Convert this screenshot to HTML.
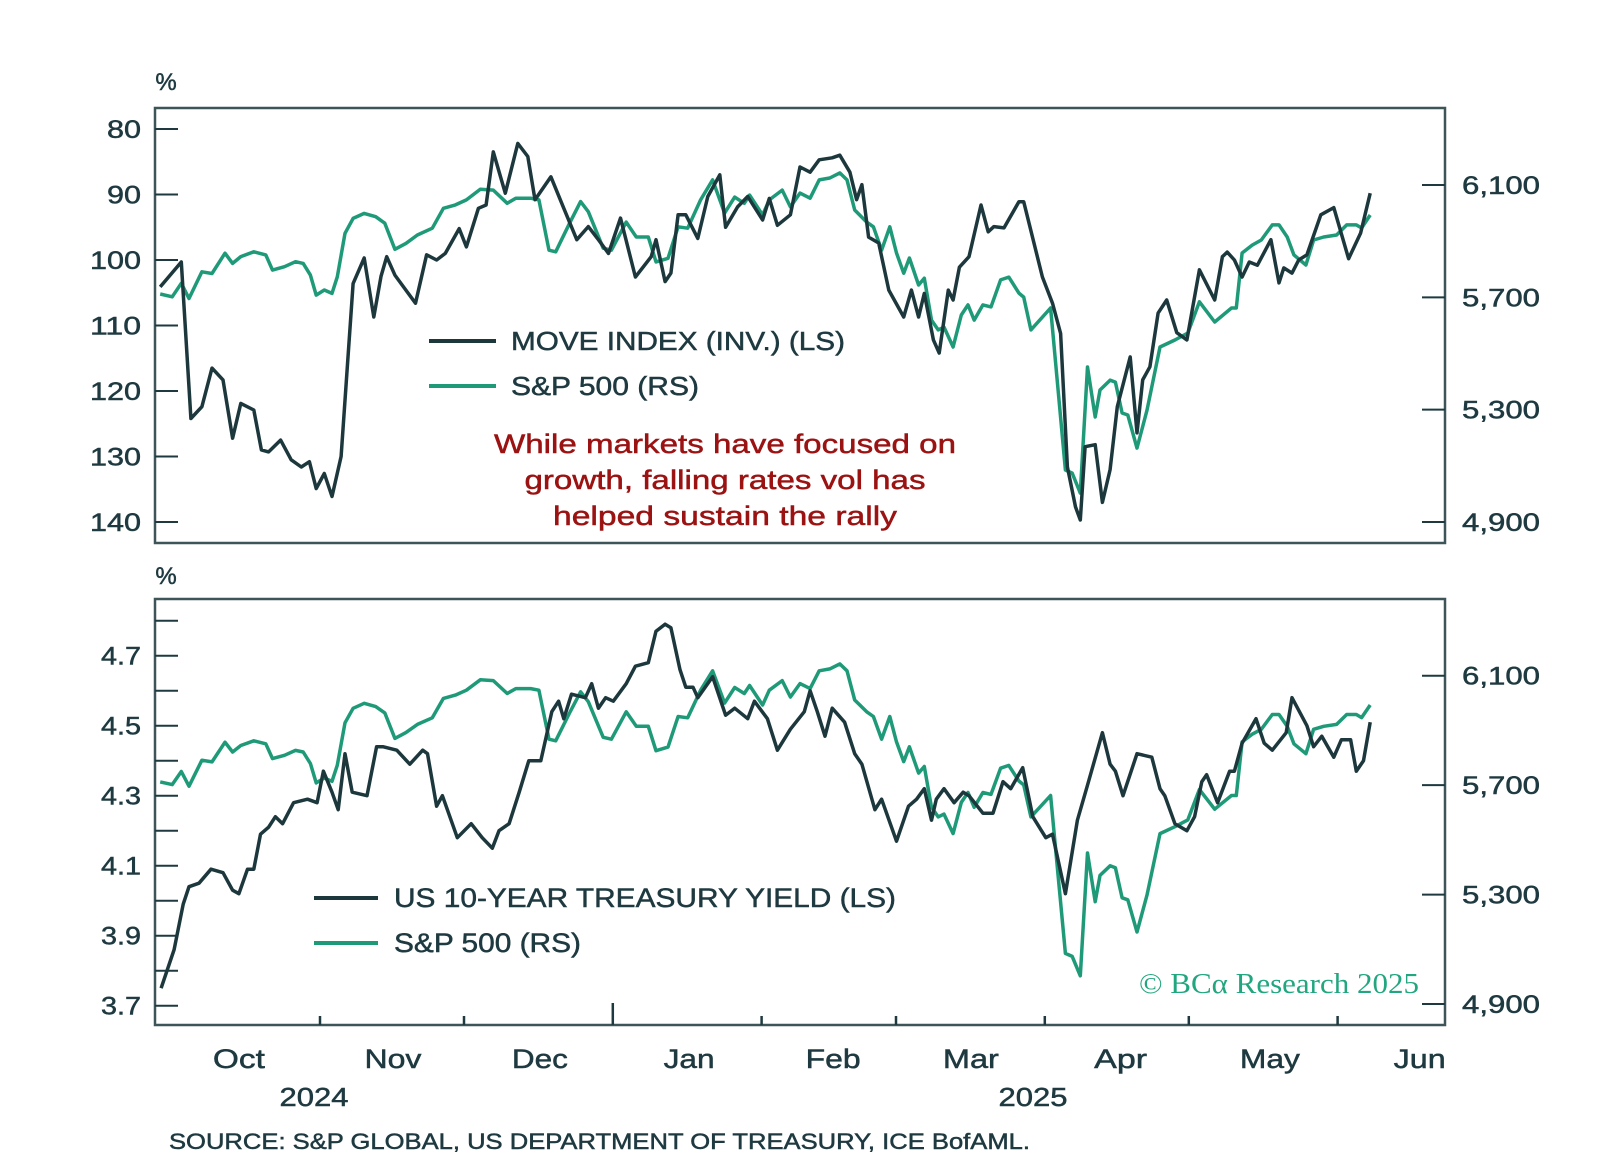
<!DOCTYPE html>
<html><head><meta charset="utf-8">
<style>
html,body{margin:0;padding:0;background:#fff;}
svg{display:block;font-family:"Liberation Sans",sans-serif;}
svg text{stroke:currentColor;stroke-width:0.5px;}
</style></head>
<body>
<svg id="chart" width="1600" height="1169" viewBox="0 0 1600 1169" xmlns="http://www.w3.org/2000/svg">
<rect width="1600" height="1169" fill="#fff"/>
<g id="gtop"></g>
<g id="gbot"></g>
<g id="xaxis"></g>
<text x="166" y="90" font-size="24" fill="#1e3a40" color="#1e3a40" text-anchor="middle">%</text>
<text x="166" y="584" font-size="24" fill="#1e3a40" color="#1e3a40" text-anchor="middle">%</text>
<g>
<line x1="429" y1="341" x2="496" y2="341" stroke="#1d383d" stroke-width="4"/>
<text x="511" y="350" font-size="26" fill="#1e3a40" color="#1e3a40" textLength="334" lengthAdjust="spacingAndGlyphs">MOVE INDEX (INV.) (LS)</text>
<line x1="429" y1="386" x2="496" y2="386" stroke="#1f9a78" stroke-width="4"/>
<text x="511" y="395" font-size="26" fill="#1e3a40" color="#1e3a40" textLength="188" lengthAdjust="spacingAndGlyphs">S&amp;P 500 (RS)</text>
</g>
<g font-size="27" fill="#9b1212" color="#9b1212" text-anchor="middle">
<text x="725" y="453" textLength="462" lengthAdjust="spacingAndGlyphs">While markets have focused on</text>
<text x="725" y="489" textLength="401" lengthAdjust="spacingAndGlyphs">growth, falling rates vol has</text>
<text x="725" y="525" textLength="344" lengthAdjust="spacingAndGlyphs">helped sustain the rally</text>
</g>
<g>
<line x1="314" y1="898" x2="378" y2="898" stroke="#1d383d" stroke-width="4"/>
<text x="394" y="907" font-size="27" fill="#1e3a40" color="#1e3a40" textLength="502" lengthAdjust="spacingAndGlyphs">US 10-YEAR TREASURY YIELD (LS)</text>
<line x1="314" y1="943" x2="378" y2="943" stroke="#1f9a78" stroke-width="4"/>
<text x="394" y="952" font-size="27" fill="#1e3a40" color="#1e3a40" textLength="187" lengthAdjust="spacingAndGlyphs">S&amp;P 500 (RS)</text>
</g>
<text x="1419" y="993" text-anchor="end" font-family="Liberation Serif,serif" font-size="29" fill="#22a67f" style="stroke:none" textLength="280" lengthAdjust="spacingAndGlyphs">© BCα Research 2025</text>
<text x="169" y="1149" font-size="22" fill="#1e3a40" color="#1e3a40" textLength="861" lengthAdjust="spacingAndGlyphs">SOURCE: S&amp;P GLOBAL, US DEPARTMENT OF TREASURY, ICE BofAML.</text>
</svg>
<script>
// days since 2024-10-01
const moveDays=[-2.3,2.1,4.1,6.4,8.5,10.8,12.8,14.5,17.2,18.8,20.3,22.8,25,27.1,28.8,30.2,31.9,33.5,35.4,37.9,40.2,42.2,43.7,44.9,46.6,48.4,50.9,53.2,55.3,57.1,60,61.5,64,65.6,67.1,69.6,72.2,74.3,75.8,79.1,81.8,84.5,86.9,89.0,91.1,93.6,96.7,100,101,102.9,104.1,105.6,107.2,109.7,111.8,114.3,115.5,118,120.1,123.2,124.6,126.3,129,131,133.1,135,137.7,139.3,141.4,142.8,143.9,145.3,147.4,149.5,152.6,154.2,155.7,156.9,158.8,160,161.9,162.9,164.2,166.2,168.7,170.2,171.4,173.5,176.6,177.6,181.5,183.6,185.3,186.7,188.4,189.4,190.4,192.5,194,195.6,197.1,199.8,201.2,202.4,203.9,205.6,207.4,209.5,211.6,214.2,217.4,219,220,221.5,223.1,224.6,226.3,229.1,230.8,231.8,233.5,234.9,236.6,239.5,242.2,245.3,247.8,249.8];
const moveVals=[104.1,100.3,124.2,122.4,116.5,118.3,127.2,121.9,122.9,129,129.3,127.5,130.5,131.6,130.8,134.9,132.6,136.1,130,103.6,99.7,108.7,102.5,99.5,102.3,104.1,106.6,99.2,100,99,95.2,98,92.1,91.6,83.5,89.8,82.2,84.2,90.8,87.3,92.1,96.9,94.9,96.9,99,93.6,102.6,99.5,96.9,103.3,102,93.1,93.1,96.7,90.3,87,95,91.9,90.3,93.9,90.6,94.7,93.1,85.8,86.6,84.7,84.4,84,86.6,90.8,88.5,96.5,97.4,104.6,108.7,104.6,108.7,105.1,112.2,114.2,104.6,106.1,101.1,99.5,91.6,95.7,94.9,95.1,91.1,91.1,102.6,106.6,111.2,131.6,137.7,139.7,128.5,128.2,137,132,122.4,114.8,126.4,118.3,116.3,108.1,106.1,111.1,112.2,101.5,106.1,99.5,98.8,100,102.6,100.3,100.8,96.9,103.5,101.2,102,100,99.2,93.1,92,99.8,95.9,89.8];
const spxDays=[-2.3,0.2,2.1,3.7,6.4,8.5,11.2,12.8,14.5,17.2,19.7,21.1,23.6,25.9,27.5,29,30.2,31.9,33.5,34.6,36.2,37.9,40.2,42.6,44.5,46.6,48.9,51.3,54.4,56.7,59.2,61.5,64.4,67.1,70,71.8,74.9,76.6,78.7,80.1,83,85.3,86.9,90,91.7,94.8,96.9,99.4,101,103.5,105.6,107.6,110.3,112.8,115.3,117.4,119.4,120.5,123.2,124.6,127.3,129,131,133.1,135,137.2,139.3,140.8,142.4,144.9,146.3,148,149.7,151.1,152.6,153.8,155.7,156.9,158.4,159.8,161,162.9,164.6,166,167.3,169.1,170.8,172.8,174.5,176.6,177.6,179.1,183.2,186.3,187.7,189.4,190.9,192.5,193.5,195.6,196.7,198.1,199.3,201.2,203.3,206,209.1,211.8,214.2,217.4,220.9,221.9,223.1,225.2,227.1,229.4,230.8,232.5,233.9,236.4,238,240.1,242.8,244.9,246.9,248,249.8];
const spxVals=[5712,5702,5750,5696,5791,5785,5857,5821,5845,5862,5851,5797,5809,5827,5821,5779,5708,5726,5714,5773,5928,5981,5999,5987,5964,5871,5892,5922,5946,6017,6029,6047,6085,6082,6035,6053,6053,6047,5868,5862,5964,6041,6005,5875,5868,5968,5915,5915,5826,5839,5951,5946,6047,6118,6000,6057,6035,6064,5993,6047,6082,6022,6071,6053,6118,6125,6143,6118,6011,5968,5951,5868,5951,5858,5786,5840,5744,5768,5619,5584,5594,5523,5637,5673,5619,5673,5666,5762,5772,5715,5701,5584,5662,5085,5074,5003,5452,5274,5370,5405,5398,5288,5281,5163,5298,5523,5548,5573,5684,5612,5662,5662,5858,5886,5904,5958,5958,5915,5851,5815,5904,5915,5922,5958,5958,5947,5993];
const yldDays=[-2.1,0.6,2.5,3.7,5.8,8.3,10.8,12.8,14.1,15.9,17.2,18.6,20.3,21.7,23.2,25.5,28.4,30.4,31.7,33.5,34.8,36.2,37.7,40.8,42.8,44.1,47,49.7,52.4,53.4,55.3,56.5,59.6,62.5,64.8,66.9,68.3,70.4,72.5,74.5,77,79.3,80.7,81.8,83.4,86.3,87.6,89,90.5,92.1,94.8,96.7,99.4,101,102.9,104.1,106,107.2,108.7,109.7,112.8,115.5,117.4,120.1,121.5,124.2,126.3,129,131.9,133.1,134.6,136.2,137.7,140.3,142.4,143.9,146.6,148,151.1,153.6,155.3,156.9,158.4,159.4,161,163.1,165,166.2,169.1,171.2,173.3,174.9,177.4,179.5,182.2,183.6,186.3,188.8,190.9,194,195.6,196.7,198.3,201.2,204.3,206,207,209.1,211.6,213.2,214.7,215.7,218,220.5,221.5,223.1,226,227.7,229.4,232.3,233.5,236.6,238,239.7,242.2,243.8,245.7,246.9,248.4,249.8];
const yldVals=[3.75,3.86,3.99,4.04,4.05,4.09,4.08,4.03,4.02,4.09,4.09,4.19,4.21,4.24,4.22,4.28,4.29,4.28,4.37,4.31,4.26,4.42,4.31,4.30,4.44,4.44,4.43,4.39,4.43,4.42,4.27,4.30,4.18,4.22,4.18,4.15,4.20,4.22,4.31,4.40,4.40,4.54,4.57,4.52,4.59,4.58,4.62,4.55,4.58,4.57,4.62,4.67,4.68,4.77,4.79,4.78,4.66,4.61,4.61,4.58,4.64,4.53,4.55,4.52,4.57,4.52,4.43,4.49,4.54,4.60,4.54,4.47,4.55,4.51,4.42,4.39,4.26,4.29,4.17,4.27,4.29,4.32,4.23,4.29,4.32,4.28,4.31,4.30,4.25,4.25,4.34,4.32,4.38,4.24,4.18,4.19,4.02,4.23,4.33,4.48,4.39,4.37,4.30,4.42,4.41,4.32,4.30,4.22,4.20,4.24,4.34,4.36,4.28,4.37,4.37,4.45,4.52,4.45,4.43,4.48,4.58,4.50,4.44,4.47,4.41,4.46,4.46,4.37,4.40,4.51];
const moveTicks=[80,90,100,110,120,130,140];
const spxTicks=[6100,5700,5300,4900];
const spxTickLabels=["6,100","5,700","5,300","4,900"];
const yldMinorTicks=[4.8,4.7,4.6,4.5,4.4,4.3,4.2,4.1,4.0,3.9,3.8,3.7];
const yldLabels=[4.7,4.5,4.3,4.1,3.9,3.7];
const monthStartDays=[31,61,92,123,151,182,212,243];
const monthLabels=["Oct","Nov","Dec","Jan","Feb","Mar","Apr","May","Jun"];
const monthMidDays=[14.1,46.2,76.8,107.9,137.9,166.6,197.8,228.9,260.1];
const monthLabelWidths=[52,57,56,51,55,56,53,60,52];

const NS="http://www.w3.org/2000/svg";
const L=155,R=1445;
const xDay=d=>320+(d-31)*4.8;
const PT={top:108,bot:543}, PB={top:599,bot:1025};
const yMove=v=>129+(v-80)*(522-129)/60;
const ySpxT=v=>185+(6100-v)*(522-185)/1200;
const yYld=v=>620.7+(4.8-v)*350;
const ySpxB=v=>675.7+(6100-v)*(1004-675.7)/1200;
const INK="#1e3a40";
function mk(tag,attrs,parent){const e=document.createElementNS(NS,tag);for(const k in attrs)e.setAttribute(k,attrs[k]);parent.appendChild(e);return e;}
function pathD(days,vals,fx,fy){return days.map((d,i)=>(i?"L":"M")+fx(d).toFixed(1)+","+fy(vals[i]).toFixed(1)).join("");}

const gTop=document.getElementById('gtop'),gBot=document.getElementById('gbot'),gX=document.getElementById('xaxis');
function frame(g,P,nm){const r=mk('rect',{x:L,y:P.top,width:R-L,height:P.bot-P.top,fill:'none',stroke:'#3d5559','stroke-width':2.5},g);

}
frame(gTop,PT,'top-plot-frame');frame(gBot,PB,'bottom-plot-frame');

moveTicks.forEach(v=>{const y=yMove(v);
const l=mk('line',{x1:L,x2:178,y1:y,y2:y,stroke:INK,'stroke-width':2},gTop);


const s=String(v);
const t=mk('text',{x:141,y:y+9,'text-anchor':'end','font-size':25,fill:INK,color:INK,textLength:s.length*17,lengthAdjust:'spacingAndGlyphs'},gTop);t.textContent=s;

});
spxTicks.forEach((v,i)=>{[[gTop,ySpxT],[gBot,ySpxB]].forEach(([g,f])=>{const y=f(v);
const l=mk('line',{x1:1422,x2:R,y1:y,y2:y,stroke:INK,'stroke-width':2},g);


const t=mk('text',{x:1462,y:y+9,'font-size':25,fill:INK,color:INK,textLength:78,lengthAdjust:'spacingAndGlyphs'},g);t.textContent=spxTickLabels[i];

});});
yldMinorTicks.forEach(v=>{const y=yYld(v);
const l=mk('line',{x1:L,x2:178,y1:y,y2:y,stroke:INK,'stroke-width':2},gBot);

});
yldLabels.forEach(v=>{const t=mk('text',{x:141,y:yYld(v)+9,'text-anchor':'end','font-size':25,fill:INK,color:INK,textLength:40,lengthAdjust:'spacingAndGlyphs'},gBot);t.textContent=v.toFixed(1);

});

monthStartDays.forEach((d,i)=>{const x=xDay(d);
const l=mk('line',{x1:x,x2:x,y1:PB.bot,y2:PB.bot-(i===2?22:9),stroke:INK,'stroke-width':2.5},gX);

});
monthLabels.forEach((m,i)=>{const t=mk('text',{x:xDay(monthMidDays[i]),y:1068,'text-anchor':'middle','font-size':27,fill:INK,color:INK,textLength:monthLabelWidths[i],lengthAdjust:'spacingAndGlyphs'},gX);t.textContent=m;

});
[["2024",314],["2025",1033]].forEach(([s,x])=>{const t=mk('text',{x:x,y:1106,'text-anchor':'middle','font-size':26,fill:INK,color:INK,textLength:69,lengthAdjust:'spacingAndGlyphs'},gX);t.textContent=s;

});

let p;
p=mk('path',{d:pathD(spxDays,spxVals,xDay,ySpxT),fill:'none',stroke:'#1f9a78','stroke-width':3.5,'stroke-linejoin':'round'},gTop);


p=mk('path',{d:pathD(moveDays,moveVals,xDay,yMove),fill:'none',stroke:'#1d383d','stroke-width':3.5,'stroke-linejoin':'round'},gTop);


p=mk('path',{d:pathD(spxDays,spxVals,xDay,ySpxB),fill:'none',stroke:'#1f9a78','stroke-width':3.5,'stroke-linejoin':'round'},gBot);


p=mk('path',{d:pathD(yldDays,yldVals,xDay,yYld),fill:'none',stroke:'#1d383d','stroke-width':3.5,'stroke-linejoin':'round'},gBot);


</script>
</body></html>
